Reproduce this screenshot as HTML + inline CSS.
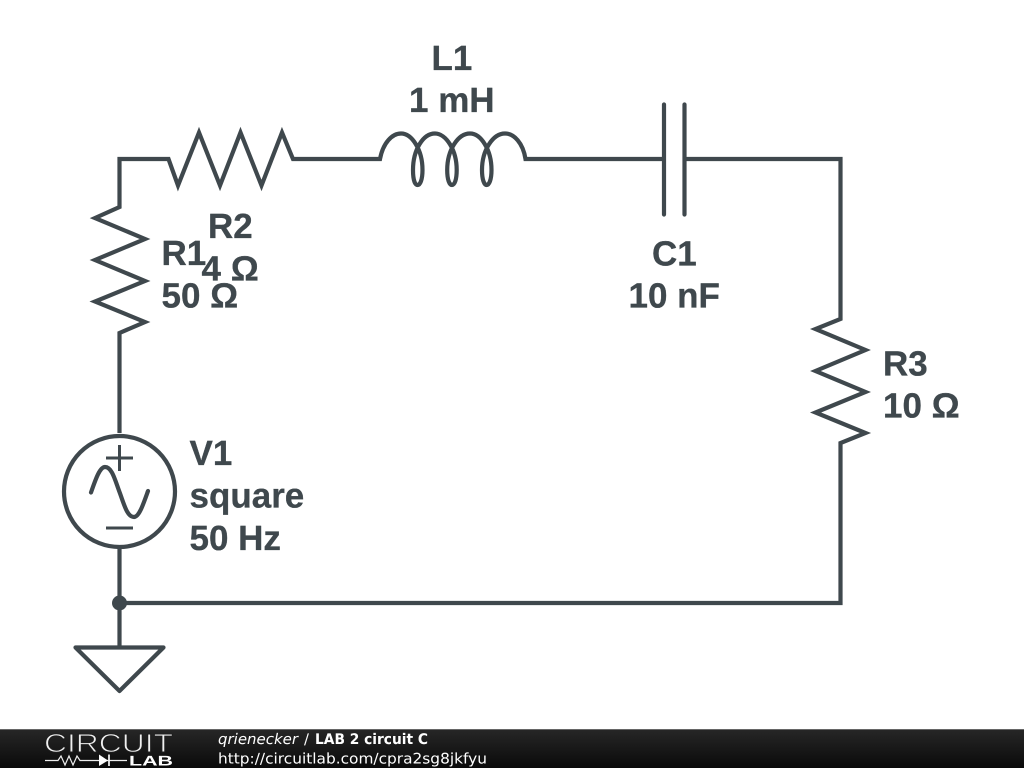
<!DOCTYPE html>
<html>
<head>
<meta charset="utf-8">
<style>
html,body{margin:0;padding:0;background:#fff;width:1024px;height:768px;overflow:hidden}
svg{display:block}
text{text-rendering:geometricPrecision}
.l{font-family:"Liberation Sans",sans-serif;font-weight:bold;font-size:35px;fill:#3f484d;stroke:#3f484d;stroke-width:0.3}
.f{font-family:"DejaVu Sans",sans-serif;font-size:14.6px;fill:#fff}
</style>
</head>
<body>
<svg width="1024" height="768" viewBox="0 0 1024 768" xmlns="http://www.w3.org/2000/svg">
<defs>
<linearGradient id="g" x1="0" y1="0" x2="0" y2="1">
<stop offset="0" stop-color="#272727"/>
<stop offset="1" stop-color="#0a0a0a"/>
</linearGradient>
</defs>
<rect width="1024" height="768" fill="#fff"/>
<g fill="none" stroke="#3f484d" stroke-width="4.2" stroke-linejoin="miter" stroke-linecap="butt">
<!-- R1 + wire + R2 -->
<path d="M119.5,433 V333 L145,322 L95,301.5 L145,281 L95,260 L145,239 L95,218 L119.5,207 V159 H168.5 L178,185.5 L199,132.5 L220,185.5 L240.5,132.5 L261.5,185.5 L282,132.5 L293,159 H378"/>
<!-- L1 -->
<path d="M378,159 H380 C383,143 392,133.5 401,133.5 C412,133.5 422.5,150 422.5,170 C422.5,180 420,185 417.7,185 C415,185 413,180 413,170 C413,150 423,133.5 435,133.5 C446,133.5 456.7,150 456.7,170 C456.7,180 454.5,185 452,185 C449.5,185 447.2,180 447.2,170 C447.2,150 458,133.5 470,133.5 C481,133.5 491.5,150 491.5,170 C491.5,180 489,185 486.7,185 C484.3,185 482,180 482,170 C482,150 493,133.5 505,133.5 C514,133.5 523,143 525.5,159 H664"/>
<!-- C1 right wire + R3 -->
<path d="M684,159 H840.5 V319 L815.5,329 L865.5,350 L815.5,371 L865.5,392 L815.5,412.5 L865.5,433 L840.5,443 V603 H119.5"/>
<path d="M119.5,547 V647"/>
<!-- Capacitor plates -->
<path d="M664,104.5 V214.5 M684.5,104.5 V214.5" stroke-linecap="round"/>
<!-- V1 -->
<circle cx="119.5" cy="491.5" r="55.5"/>
<path d="M106,458 H133 M119.5,445 V471 M106,528 H133" stroke-width="3"/>
<path d="M91,492.5 C96,478 100,467 105,467 C112,467 115,480 119.5,492 C124,504 127,517 134,517 C139,517 143,505 148,491" stroke-linecap="round"/>
<!-- Ground -->
<path d="M75.5,647.5 H163.5 L119.5,691 Z" stroke-linejoin="round"/>
</g>
<circle cx="119.5" cy="603" r="7.5" fill="#3f484d"/>

<text class="l" x="431.5" y="70">L1</text>
<text class="l" x="409" y="112">1 mH</text>
<text class="l" x="652" y="265.5">C1</text>
<text class="l" x="628.5" y="307.5">10 nF</text>
<text class="l" x="208" y="238">R2</text>
<text class="l" x="201.5" y="280.5">4 Ω</text>
<text class="l" x="161.5" y="265">R1</text>
<text class="l" x="161.5" y="307.5">50 Ω</text>
<text class="l" x="883" y="375.5">R3</text>
<text class="l" x="883" y="417.5">10 Ω</text>
<text class="l" x="189.5" y="465">V1</text>
<text class="l" x="189.5" y="507.5">square</text>
<text class="l" x="189.5" y="550">50 Hz</text>

<!-- Footer -->
<rect x="0" y="729" width="1024" height="39" fill="url(#g)"/>
<rect x="0" y="729" width="1024" height="1" fill="#666"/>
<text x="44" y="752" font-family="Liberation Sans, sans-serif" font-size="26" fill="#f0f0f0" stroke="#1e1e1e" stroke-width="0.9" textLength="129" lengthAdjust="spacingAndGlyphs">CIRCUIT</text>
<g fill="none" stroke="#eee" stroke-width="1.2">
<path d="M45,760.5 H58 L61,756 L65,765 L69,756 L73,765 L77,756 L80,760.5 H127"/>
<path d="M109,754.5 V766" stroke-width="1.8"/>
</g>
<path d="M99,754.5 L108,760.5 L99,766 Z" fill="#fff"/>
<text x="129" y="765.5" font-family="Liberation Sans, sans-serif" font-weight="bold" font-size="14" fill="#fff" textLength="44" lengthAdjust="spacingAndGlyphs">LAB</text>
<text class="f" x="218" y="744" font-style="italic" textLength="80" lengthAdjust="spacingAndGlyphs">qrienecker</text>
<text class="f" x="304" y="744">/</text>
<text class="f" x="315" y="744" font-weight="bold" textLength="113" lengthAdjust="spacingAndGlyphs">LAB 2 circuit C</text>
<text class="f" x="218" y="763.5" textLength="269" lengthAdjust="spacingAndGlyphs">http://circuitlab.com/cpra2sg8jkfyu</text>
</svg>
</body>
</html>
